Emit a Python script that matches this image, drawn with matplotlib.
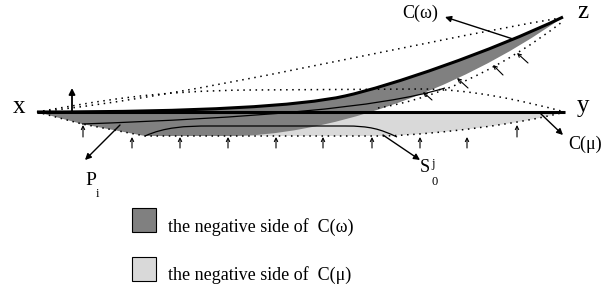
import matplotlib
matplotlib.use("Agg")
import matplotlib.pyplot as plt
from matplotlib.path import Path
from matplotlib.patches import PathPatch, Rectangle

plt.rcParams['font.family'] = ['Liberation Serif', 'DejaVu Serif']

# diagram geometry (pixel coords, y down)
pt_x = (37, 112)
pt_y = (565, 112)
pt_z = (563, 17)

# x -> z, C(omega): two cubic pieces joined at thick_mid
thick_ctrl1 = [(200, 112), (300, 106)]
thick_mid = (345, 96)
thick_ctrl2 = [(390, 86), (490, 52)]
band_edge = [(230, 136), (320, 136), (452, 96)]  # lower edge of dark band, up to z
dark_left = [(145, 136), (82, 124)]
bottom_pts = [(37, 112), (82, 124), (145, 136), (385, 136)]
bottom_ctrl = [(440, 134), (520, 124)]

thin1 = [(82, 124), (250, 118), (380, 108), (445, 88)]
s_curve = [(145, 136), (165, 127), (185, 126), (210, 126), (345, 126),
           (370, 126), (380, 129), (397, 137)]

dot_a = [(37, 112), (200, 95), (400, 45), (560, 18)]
dot_b = [(37, 112), (100, 101), (150, 91), (250, 90), (420, 89),
         (470, 89), (520, 100), (565, 112)]
dot_c = [(378, 108), (440, 98), (505, 66), (562, 22)]

up_x = [83, 132, 180, 228, 276, 323, 372, 420, 467, 517]
up_tail = [137, 148, 148, 148, 148, 148, 148, 148, 148, 137]
up_head = [125, 137, 137, 137, 137, 137, 137, 137, 137, 125]

slant_tail = [(432, 100), (468, 88), (503, 75), (528, 63)]
slant_head = [(423, 92), (457, 78), (493, 65), (517, 53)]

dark = '#808080'
light = '#d9d9d9'

M, L, C4, CL = Path.MOVETO, Path.LINETO, Path.CURVE4, Path.CLOSEPOLY

fig = plt.figure(figsize=(6.03, 2.95), dpi=100)
ax = fig.add_axes([0, 0, 1, 1])
ax.set_xlim(0, 603)
ax.set_ylim(295, 0)
ax.axis('off')

# light region (negative side of C(mu))
lv = [(200, 112), pt_y, bottom_ctrl[1], bottom_ctrl[0], bottom_pts[3], (200, 136), (200, 112)]
lc = [M, L, C4, C4, C4, L, CL]
ax.add_patch(PathPatch(Path(lv, lc), facecolor=light, edgecolor='none', zorder=1))

# dark region (negative side of C(omega))
thick_v = [pt_x] + thick_ctrl1 + [thick_mid] + thick_ctrl2 + [pt_z]
thick_c = [M, C4, C4, C4, C4, C4, C4]
dv = thick_v + [band_edge[2], band_edge[1], band_edge[0], dark_left[0], dark_left[1], pt_x]
dc = thick_c + [C4, C4, C4, L, L, CL]
ax.add_patch(PathPatch(Path(dv, dc), facecolor=dark, edgecolor='none', zorder=2))

dots = dict(color='k', lw=1.1, linestyle=(0, (1, 3)), fill=False, zorder=3)
ax.add_patch(PathPatch(Path(dot_a, [M, C4, C4, C4]), **dots))
ax.add_patch(PathPatch(Path(dot_b, [M, C4, C4, C4, L, C4, C4, C4]), **dots))
ax.add_patch(PathPatch(Path(dot_c, [M, C4, C4, C4]), **dots))
ax.add_patch(PathPatch(Path(bottom_pts + bottom_ctrl + [pt_y], [M, L, L, L, C4, C4, C4]), **dots))

# thick lines
ax.plot([pt_x[0], pt_y[0]], [pt_x[1], pt_y[1]], color='k', lw=2.2, solid_capstyle='butt', zorder=4)
ax.add_patch(PathPatch(Path(thick_v, thick_c), fill=False, color='k', lw=2.2, zorder=4))

# thin curves
ax.add_patch(PathPatch(Path(thin1, [M, C4, C4, C4]), fill=False, color='k', lw=0.9, zorder=4))
ax.add_patch(PathPatch(Path(s_curve, [M, C4, C4, C4, L, C4, C4, C4]), fill=False, color='k', lw=0.9, zorder=4))


def arrow(tail, head, style='->', lw=0.8, ms=7):
    ax.annotate('', xy=head, xytext=tail, zorder=5,
                arrowprops=dict(arrowstyle=style, lw=lw, color='k', mutation_scale=ms,
                                shrinkA=0, shrinkB=0))


for xx, t, h in zip(up_x, up_tail, up_head):
    arrow((xx, t), (xx, h), ms=6)
for t, h in zip(slant_tail, slant_head):
    arrow(t, h, ms=6)

arrow((72, 112), (72, 88), style='-|>', lw=1.3, ms=9)
arrow((513, 39), (445, 17), style='-|>', lw=1.0, ms=9)
arrow((540, 113), (563, 135), style='-|>', lw=1.0, ms=9)
arrow((120, 125), (85, 160), style='-|>', lw=1.0, ms=9)
arrow((383, 135), (420, 160), style='-|>', lw=1.0, ms=9)

# labels
ax.text(19, 113, 'x', fontsize=18, ha='center', va='baseline')
ax.text(583, 112, 'y', fontsize=18, ha='center', va='baseline')
ax.text(583, 18, 'z', fontsize=18, ha='center', va='baseline')
ax.text(402, 18, 'C(ω)', fontsize=13, ha='left', va='baseline')
ax.text(568, 149, 'C(μ)', fontsize=13, ha='left', va='baseline')
ax.text(85, 185, 'P', fontsize=14, ha='left', va='baseline')
ax.text(96, 197, 'i', fontsize=9, ha='left', va='baseline')
ax.text(420, 172, 'S', fontsize=13, ha='left', va='baseline')
ax.text(431, 167, 'j', fontsize=9, ha='left', va='baseline')
ax.text(432, 185, '0', fontsize=9, ha='left', va='baseline')

# legend
ax.add_patch(Rectangle((132, 208), 24, 24, facecolor=dark, edgecolor='k', lw=0.8, zorder=5))
ax.add_patch(Rectangle((132, 257), 24, 24, facecolor=light, edgecolor='k', lw=0.8, zorder=5))
ax.text(168, 232, 'the negative side of  C(ω)', fontsize=13, ha='left', va='baseline')
ax.text(168, 280, 'the negative side of  C(μ)', fontsize=13, ha='left', va='baseline')

fig.savefig('out.png', dpi=100)
